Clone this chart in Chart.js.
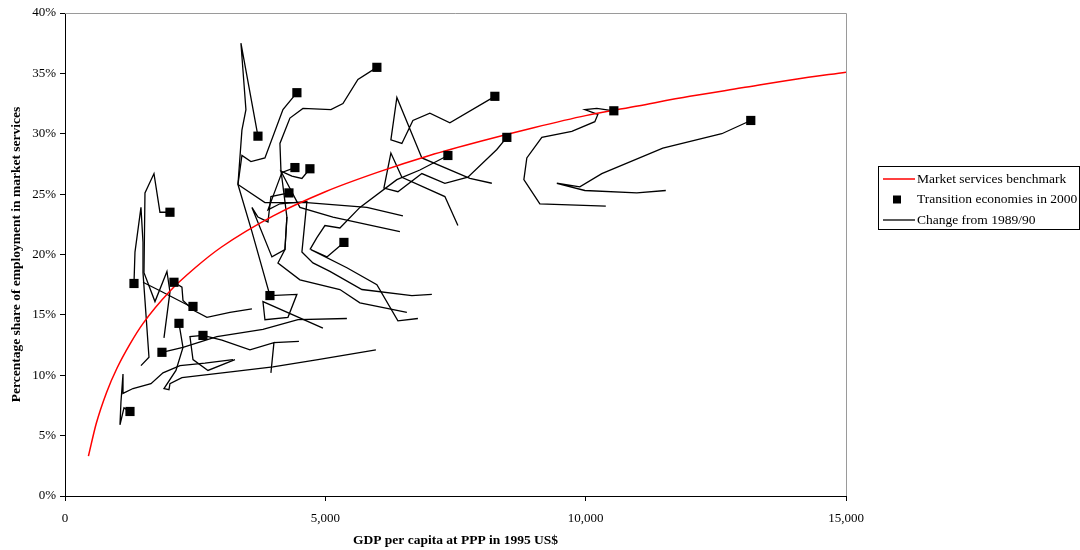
<!DOCTYPE html>
<html>
<head>
<meta charset="utf-8">
<script src="https://cdn.jsdelivr.net/npm/chart.js@4"></script>
<style>
html, body { margin: 0; padding: 0; background: #fff; }
</style>
</head>
<body>
<canvas id="chart1" width="1080" height="550"></canvas>
<script>
// market services benchmark curve
var benchGdp = [450, 600, 800, 1000, 1250, 1500, 2000, 2500, 3000, 4000, 5000, 6000, 7000, 8000, 9000, 10000, 11000, 12000, 13000, 14000, 15000];
var benchShare = [3.3, 6.0, 8.6, 10.6, 12.6, 14.3, 16.9, 18.9, 20.6, 23.2, 25.2, 26.8, 28.2, 29.4, 30.5, 31.5, 32.3, 33.1, 33.8, 34.5, 35.1];

// transition economies in 2000
var gdp2000 = [1248, 1325, 2016, 1862, 2093, 2458, 2189, 2650, 3706, 3936, 4454, 4416, 4704, 4301, 5357, 5990, 7354, 8256, 8486, 10541, 13171];
var share2000 = [7.0, 17.6, 23.5, 11.9, 17.7, 15.7, 14.3, 13.3, 29.8, 16.6, 33.4, 27.2, 27.1, 25.1, 21.0, 35.5, 28.2, 33.1, 29.7, 31.9, 31.1];

// change from 1989/90, one path per country: [gdp, share]
var trail01 = [[3226, 11.3], [2688, 11.0], [2208, 10.8], [1882, 10.2], [1651, 9.3], [1306, 8.9], [1114, 8.5], [1114, 10.1], [1075, 7.8], [1056, 5.9], [1133, 7.3], [1248, 7.0]];
var trail02 = [[1459, 10.8], [1613, 11.5], [1536, 16.2], [1498, 18.5], [1498, 21.0], [1459, 23.9], [1344, 20.2], [1325, 17.6]];
var trail03 = [[1901, 13.1], [2016, 16.9], [1958, 18.6], [1728, 16.1], [1517, 18.5], [1536, 25.1], [1709, 26.7], [1824, 23.5], [2016, 23.5]];
var trail04 = [[5414, 14.7], [4474, 14.6], [3802, 13.8], [2918, 13.2], [2266, 12.3], [1862, 11.9]];
var trail05 = [[3590, 15.5], [3168, 15.2], [2726, 14.8], [2458, 15.4], [2266, 16.2], [2246, 17.3], [2093, 17.7]];
var trail06 = [[1498, 17.7], [1824, 17.0], [2362, 15.8], [2458, 15.7]];
var trail07 = [[5971, 12.1], [4858, 11.3], [3994, 10.7], [3226, 10.3], [2246, 9.8], [2016, 9.3], [1997, 8.8], [1901, 8.9], [2131, 10.4], [2266, 12.3], [2189, 14.3]];
var trail08 = [[3264, 11.3], [2746, 10.4], [2458, 11.3], [2400, 13.2], [2650, 13.3], [3014, 12.9], [3552, 12.1], [4013, 12.7], [3955, 10.2], [4013, 12.7], [4493, 12.8]];
var trail09 = [[3322, 25.8], [3398, 30.3], [3475, 32.0], [3379, 37.5], [3706, 29.8]];
var trail10 = [[4954, 13.9], [3802, 16.1], [3840, 14.6], [4282, 14.8], [4454, 16.7], [3936, 16.6], [3590, 21.9], [3322, 25.8]];
var trail11 = [[6490, 23.2], [5798, 23.9], [4646, 24.3], [3840, 24.3], [3322, 25.8], [3398, 28.2], [3571, 27.7], [3840, 28.0], [4186, 32.0], [4454, 33.4]];
var trail12 = [[7046, 16.7], [6662, 16.6], [5702, 17.1], [5088, 18.6], [4762, 19.3], [4550, 20.2], [4646, 24.4], [4128, 24.2], [3898, 23.7], [4166, 26.8], [4416, 27.2]];
var trail13 = [[6432, 21.9], [5146, 23.1], [4512, 23.9], [4147, 26.9], [4358, 26.5], [4550, 26.3], [4704, 27.1]];
var trail14 = [[4262, 23.1], [4224, 20.4], [3974, 19.8], [3590, 23.9], [3706, 23.1], [3898, 22.7], [3955, 24.8], [4301, 25.1]];
var trail15 = [[6778, 14.7], [6394, 14.5], [5990, 17.5], [5414, 18.9], [4723, 20.4], [5030, 19.8], [5357, 21.0]];
var trail16 = [[6566, 15.2], [5664, 16.0], [5280, 17.1], [4512, 17.9], [4090, 19.3], [4224, 20.4], [4262, 23.1], [4147, 27.0], [4128, 29.2], [4320, 31.3], [4570, 32.1], [5107, 32.0], [5338, 32.5], [5626, 34.5], [5990, 35.5]];
var trail17 = [[4704, 20.4], [4838, 21.4], [4992, 22.4], [5280, 22.2], [5664, 23.9], [6374, 26.2], [6816, 27.0], [7354, 28.2]];
var trail18 = [[8198, 25.9], [7776, 26.3], [6854, 28.0], [6374, 33.0], [6259, 29.5], [6470, 29.2], [6682, 31.1], [7008, 31.7], [7392, 30.9], [8256, 33.1]];
var trail19 = [[7546, 22.4], [7296, 24.8], [6470, 26.4], [6259, 28.4], [6125, 25.5], [6394, 25.2], [6854, 26.7], [7296, 25.9], [7738, 26.4], [8294, 28.7], [8486, 29.7]];
var trail20 = [[10387, 24.0], [9120, 24.2], [8813, 26.2], [8870, 28.0], [9158, 29.7], [9734, 30.2], [10176, 31.0], [10234, 31.6], [9984, 32.0], [10214, 32.1], [10541, 31.9]];
var trail21 = [[11539, 25.3], [10982, 25.1], [9984, 25.3], [9446, 25.9], [9888, 25.6], [10310, 26.7], [11482, 28.8], [12614, 30.0], [13171, 31.1]];

var trails = [trail01, trail02, trail03, trail04, trail05, trail06, trail07, trail08, trail09, trail10, trail11,
    trail12, trail13, trail14, trail15, trail16, trail17, trail18, trail19, trail20, trail21];

var legendLabels = ["Market services benchmark", "Transition economies in 2000", "Change from 1989/90"];

var serif = "'Liberation Serif', 'Times New Roman', serif";

function toPoints(xs, ys) {
    var pts = [];
    for (var i = 0; i < xs.length; i++) {
        pts.push({ x: xs[i], y: ys[i] });
    }
    return pts;
}

var datasets = [
    {
        label: legendLabels[1],
        data: toPoints(gdp2000, share2000),
        showLine: false,
        pointStyle: "rect",
        pointRadius: 6.5,
        backgroundColor: "#000",
        borderColor: "#000",
        borderWidth: 0,
    },
    {
        label: legendLabels[0],
        data: toPoints(benchGdp, benchShare),
        showLine: true,
        pointRadius: 0,
        borderColor: "#ff0000",
        borderWidth: 1.5,
        cubicInterpolationMode: "monotone",
    },
];
trails.forEach(function (t) {
    datasets.push({
        label: legendLabels[2],
        data: t.map(function (p) { return { x: p[0], y: p[1] }; }),
        showLine: true,
        pointRadius: 0,
        borderColor: "#000",
        borderWidth: 1.3,
        tension: 0,
    });
});

// grey frame on top and right of the plot area
var framePlugin = {
    id: "frame",
    beforeDatasetsDraw: function (chart) {
        var a = chart.chartArea, ctx = chart.ctx;
        ctx.save();
        ctx.strokeStyle = "#9a9a9a";
        ctx.lineWidth = 1;
        ctx.beginPath();
        ctx.moveTo(a.left, a.top + 0.5);
        ctx.lineTo(a.right + 0.5, a.top + 0.5);
        ctx.lineTo(a.right + 0.5, a.bottom);
        ctx.stroke();
        ctx.restore();
    },
};

// boxed legend at the right
var legendPlugin = {
    id: "boxLegend",
    afterDraw: function (chart) {
        var ctx = chart.ctx;
        var left = 878, top = 166, w = 202, h = 64;
        ctx.save();
        ctx.fillStyle = "#fff";
        ctx.fillRect(left, top, w, h);
        ctx.strokeStyle = "#000";
        ctx.lineWidth = 1;
        ctx.strokeRect(left + 0.5, top + 0.5, w - 1, h - 1);
        ctx.font = "13.5px " + serif;
        ctx.textBaseline = "middle";
        ctx.fillStyle = "#000";
        var rows = [179, 199.5, 220];
        // red line
        ctx.strokeStyle = "#ff0000";
        ctx.lineWidth = 1.5;
        ctx.beginPath();
        ctx.moveTo(883, rows[0]);
        ctx.lineTo(915, rows[0]);
        ctx.stroke();
        // square
        ctx.fillRect(893, rows[1] - 4, 8, 8);
        // black line
        ctx.strokeStyle = "#000";
        ctx.lineWidth = 1.3;
        ctx.beginPath();
        ctx.moveTo(883, rows[2]);
        ctx.lineTo(915, rows[2]);
        ctx.stroke();
        for (var i = 0; i < legendLabels.length; i++) {
            ctx.fillText(legendLabels[i], 917, rows[i]);
        }
        ctx.restore();
    },
};

var ctx = document.getElementById("chart1").getContext("2d");
var myChart = new Chart(ctx, {
    type: "scatter",
    data: { datasets: datasets },
    options: {
        responsive: false,
        animation: false,
        devicePixelRatio: 1,
        layout: { padding: { top: 13, right: 234, left: 0, bottom: 0 } },
        plugins: {
            legend: { display: false },
            tooltip: { enabled: false },
        },
        scales: {
            x: {
                type: "linear",
                min: 0,
                max: 15000,
                ticks: {
                    stepSize: 5000,
                    color: "#000",
                    padding: 10,
                    maxRotation: 0,
                    font: { family: serif, size: 13 },
                    callback: function (v) { return v.toLocaleString("en-US"); },
                },
                grid: { drawOnChartArea: false, tickLength: 5, color: "#000" },
                border: { color: "#000", width: 1 },
                title: {
                    display: true,
                    text: "GDP per capita at PPP in 1995 US$",
                    color: "#000",
                    font: { family: serif, size: 13.5, weight: "bold" },
                    padding: { top: 0, bottom: 1 },
                },
                afterFit: function (s) { s.height = 54; },
            },
            y: {
                min: 0,
                max: 40,
                ticks: {
                    stepSize: 5,
                    color: "#000",
                    padding: 4,
                    font: { family: serif, size: 13 },
                    callback: function (v) { return v + "%"; },
                },
                grid: { drawOnChartArea: false, tickLength: 5, color: "#000" },
                border: { color: "#000", width: 1 },
                title: {
                    display: true,
                    text: "Percentage share of employment in market services",
                    color: "#000",
                    font: { family: serif, size: 13.5, weight: "bold" },
                    padding: { top: 8, bottom: 0 },
                },
                afterFit: function (s) { s.width = 65; },
            },
        },
    },
    plugins: [framePlugin, legendPlugin],
});
</script>
</body>
</html>
